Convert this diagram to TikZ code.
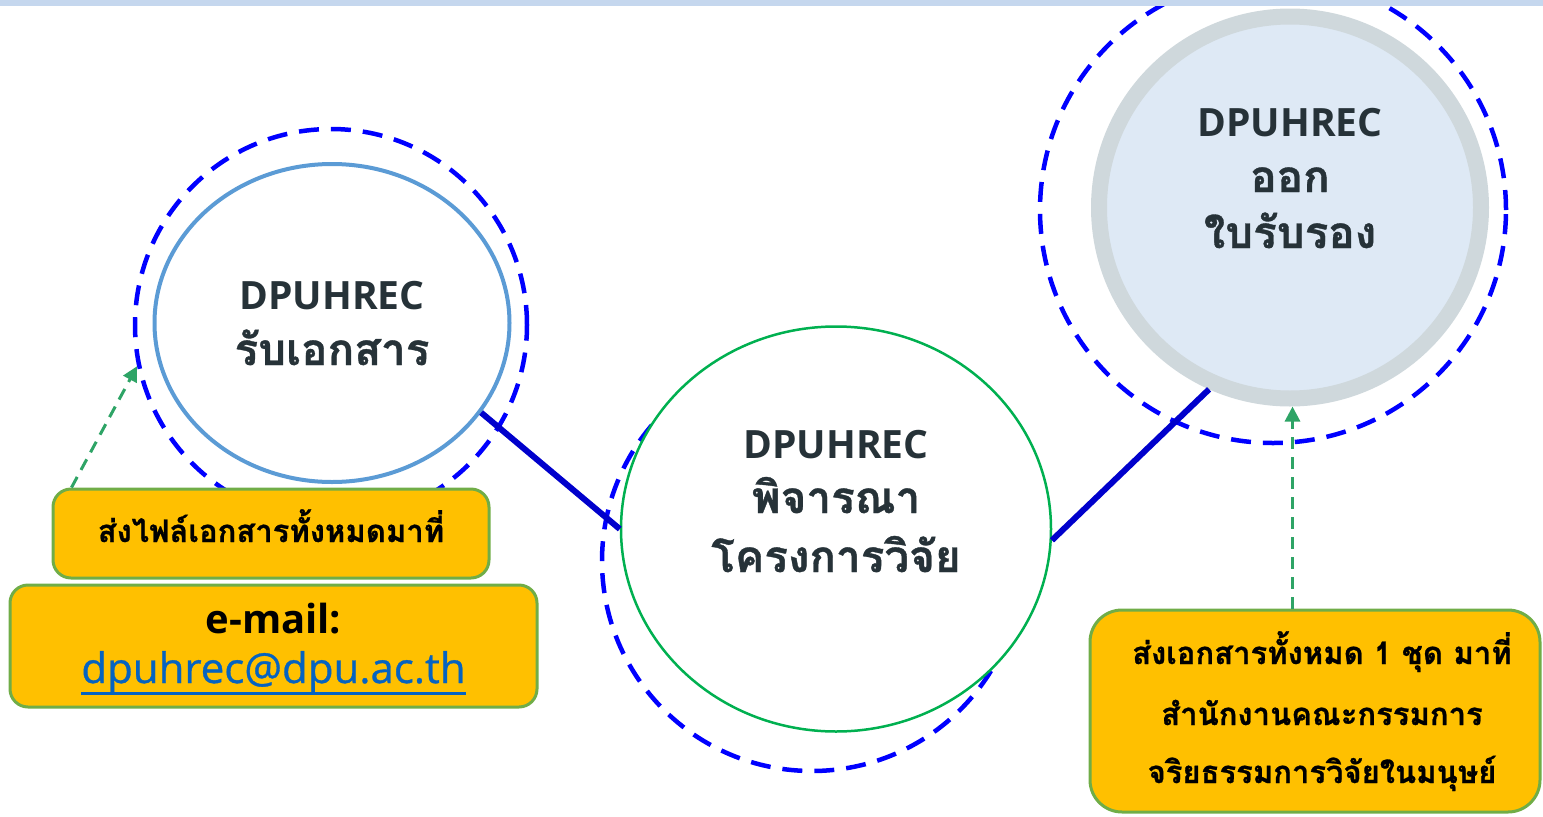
\documentclass[tikz,border=0pt]{standalone}
\usepackage{fontspec}
\newfontfamily\thai[Script=Thai,BoldFeatures={FakeBold=0.8}]{Loma}
\newfontfamily\latn{Open Sans}
\newfontfamily\latsemi{Open Sans}[FakeBold=0.8]
\usetikzlibrary{shapes.geometric,arrows.meta,calc}
\definecolor{band}{HTML}{C5D7EE}
\definecolor{dashblue}{HTML}{0000FF}
\definecolor{linkblue}{HTML}{0000CC}
\definecolor{c1blue}{HTML}{5B9BD5}
\definecolor{c2green}{HTML}{00B050}
\definecolor{ringgray}{HTML}{CFD8DC}
\definecolor{ringfill}{HTML}{DEE9F5}
\definecolor{txtdark}{HTML}{263238}
\definecolor{boxfill}{HTML}{FFC000}
\definecolor{boxedge}{HTML}{70AD47}
\definecolor{arrgreen}{HTML}{2EA466}
\definecolor{mailblue}{HTML}{0563C1}
\tikzset{
  dashring/.style={circle, draw=dashblue, line width=4.5pt, dash pattern=on 20pt off 12pt, inner sep=0pt},
  ctxt/.style={text=txtdark, anchor=base, inner sep=0pt, font=\latn\bfseries\fontsize{39}{48}\selectfont},
  cthai/.style={text=txtdark, anchor=base, inner sep=0pt, font=\thai\bfseries\fontsize{44}{50}\selectfont},
  conn/.style={draw=linkblue, line width=6pt},
  ybox/.style={draw=boxedge, line width=3pt, fill=boxfill, rounded corners=18pt, inner sep=0pt},
  bthai/.style={text=black, anchor=base, inner sep=0pt, font=\thai\bfseries\fontsize{31}{40}\selectfont},
  garrow/.style={draw=arrgreen, line width=3pt, dash pattern=on 12pt off 8pt, -{Triangle[length=15pt,width=15pt]}},
}
\begin{document}
\begin{tikzpicture}[x=1pt,y=-1pt]
\useasboundingbox (0,0) rectangle (1543,817);
\clip (0,0) rectangle (1543,817);
% circle 1
\node[dashring, minimum size=392pt] (d1) at (331,325) {};
\node[ellipse, draw=c1blue, line width=4pt, fill=white, minimum width=355pt, minimum height=318pt, inner sep=0pt] (c1) at (332,323) {};
\node[ctxt] (c1a) at (332,309) {DPUHREC};
\node[cthai] (c1b) at (332,365) {รับเอกสาร};
% circle 2
\node[dashring, minimum size=420pt] (d2) at (812,561) {};
\node[ellipse, draw=c2green, line width=2.5pt, fill=white, minimum width=430pt, minimum height=405pt, inner sep=0pt] (c2) at (836,529) {};
\node[ctxt] (c2a) at (836,458) {DPUHREC};
\node[cthai] (c2b) at (836,513) {พิจารณา};
\node[cthai] (c2c) at (836,572) {โครงการวิจัย};
% circle 3
\node[dashring, minimum size=466pt] (d3) at (1273,210) {};
\node[circle, draw=ringgray, line width=16pt, fill=ringfill, minimum size=382pt, inner sep=0pt] (c3) at (1290,207.5) {};
\node[ctxt] (c3a) at (1290,136) {DPUHREC};
\node[cthai] (c3b) at (1290,192) {ออก};
\node[cthai] (c3c) at (1290,248) {ใบรับรอง};
% connectors
\draw[conn] (c1.-31.6) -- (c2.180);
\draw[conn] (c2.-3) -- (c3.-114);
% boxes
\node[ybox, minimum width=436pt, minimum height=89pt] (b1) at (271,533.5) {};
\node[bthai] (b1t) at (271,542) {ส่งไฟล์เอกสารทั้งหมดมาที่};
\node[ybox, minimum width=527pt, minimum height=122pt] (b2) at (273.5,646) {};
\node[anchor=base, inner sep=0pt, font=\latn\bfseries\fontsize{40}{48}\selectfont] (b2a) at (273.5,633) {e-mail:};
\node[anchor=base, inner sep=0pt, text=mailblue, font=\latsemi\fontsize{42}{48}\selectfont] (b2b) at (273.5,683) {dpuhrec@dpu.ac.th};
\draw[mailblue, line width=3pt] ($(b2b.base west)+(0,10)$) -- ($(b2b.base east)+(0,10)$);
\node[ybox, rounded corners=32pt, minimum width=450pt, minimum height=202pt] (b3) at (1315,711) {};
\node[bthai] (b3a) at (1322,664) {ส่งเอกสารทั้งหมด 1 ชุด มาที่};
\node[bthai] (b3b) at (1322,725) {สำนักงานคณะกรรมการ};
\node[bthai] (b3c) at (1322,783) {จริยธรรมการวิจัยในมนุษย์};
% arrows
\coordinate (a1s) at ($(b1.north west)+(20,0)$);
\draw[garrow] (a1s) -- (d1.192);
\coordinate (a2s) at ($(b3.north west)+(204,0)$);
\draw[garrow] (a2s) -- (a2s |- c3.south);
% top band
\fill[band] (0,0) rectangle (1543,6);
\end{tikzpicture}
\end{document}
